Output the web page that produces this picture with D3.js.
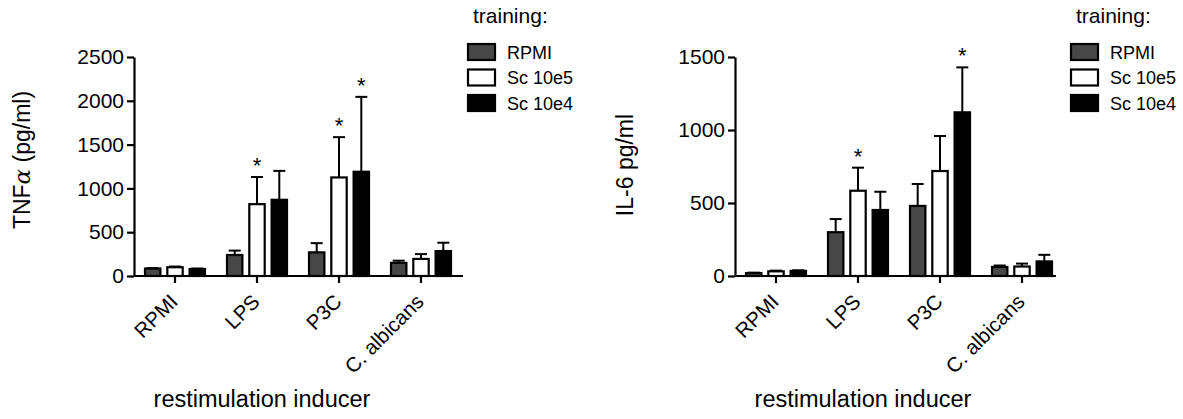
<!DOCTYPE html>
<html>
<head>
<meta charset="utf-8">
<script src="https://cdn.jsdelivr.net/npm/d3@7"></script>
<style>
  body { margin: 0; background: #fff; }
  svg { display: block; font-family: "Liberation Sans", Arial, sans-serif; }
</style>
</head>
<body>
<svg id="chart" width="1183" height="419"></svg>
<script>
const categories = ['RPMI', 'LPS', 'P3C', 'C. albicans'];
const series = ['RPMI', 'Sc 10e5', 'Sc 10e4'];
const seriesFill = ['#474747', '#ffffff', '#000000'];

// TNFa, mean per category for each training group, and the SEM (upper bar)
const tnfRpmi = [85, 240, 270, 150];
const tnfRpmiErr = [5, 50, 105, 25];
const tnfSc5 = [100, 820, 1125, 195];
const tnfSc5Err = [8, 310, 460, 55];
const tnfSc4 = [80, 870, 1190, 285];
const tnfSc4Err = [5, 330, 855, 95];
const tnfTicks = [0, 500, 1000, 1500, 2000, 2500];
const tnfStars = [['LPS', 'Sc 10e5'], ['P3C', 'Sc 10e5'], ['P3C', 'Sc 10e4']];

// IL-6
const il6Rpmi = [20, 300, 480, 62];
const il6RpmiErr = [3, 90, 150, 10];
const il6Sc5 = [32, 584, 719, 65];
const il6Sc5Err = [5, 158, 240, 20];
const il6Sc4 = [35, 452, 1121, 100];
const il6Sc4Err = [4, 125, 308, 45];
const il6Ticks = [0, 500, 1000, 1500];
const il6Stars = [['LPS', 'Sc 10e5'], ['P3C', 'Sc 10e4']];

const svg = d3.select('#chart');

function rows(means, errs) {
  const out = [];
  categories.forEach((c, i) => {
    series.forEach((s, j) => {
      out.push({ cat: c, ser: s, si: j, mean: means[j][i], err: errs[j][i] });
    });
  });
  return out;
}

function drawPanel(opt) {
  const top = 57, bottom = 276;
  const data = rows(opt.means, opt.errs);

  const x = d3.scaleBand()
    .domain(categories)
    .range([opt.left, opt.left + 328]);

  const xs = d3.scaleBand()
    .domain(series)
    .range([0, 62])
    .paddingInner(0.22);

  const y = d3.scaleLinear()
    .domain([0, opt.max])
    .range([bottom, top]);

  const barX = d => x(d.cat) + x.bandwidth() / 2 - 31 + xs(d.ser);

  const g = svg.append('g');

  // error bars first so the bar outline sits on top
  const err = g.selectAll('.err')
    .data(data)
    .enter()
    .append('g')
    .attr('class', 'err')
    .attr('transform', d => `translate(${barX(d) + xs.bandwidth() / 2},0)`);
  err.append('line')
    .attr('y1', d => y(d.mean))
    .attr('y2', d => y(d.mean + d.err))
    .attr('stroke', '#000')
    .attr('stroke-width', 2);
  err.append('line')
    .attr('x1', -6).attr('x2', 6)
    .attr('y1', d => y(d.mean + d.err))
    .attr('y2', d => y(d.mean + d.err))
    .attr('stroke', '#000')
    .attr('stroke-width', 2);

  g.selectAll('.bar')
    .data(data)
    .enter()
    .append('rect')
    .attr('class', 'bar')
    .attr('x', d => barX(d) + 1)
    .attr('y', d => y(d.mean))
    .attr('width', xs.bandwidth() - 2)
    .attr('height', d => bottom - y(d.mean))
    .attr('fill', d => seriesFill[d.si])
    .attr('stroke', '#000')
    .attr('stroke-width', 2.2);

  // significance marks
  g.selectAll('.star')
    .data(data.filter(d => opt.stars.some(s => s[0] === d.cat && s[1] === d.ser)))
    .enter()
    .append('text')
    .attr('class', 'star')
    .attr('x', d => barX(d) + xs.bandwidth() / 2)
    .attr('y', d => y(d.mean + d.err) - 4)
    .attr('text-anchor', 'middle')
    .style('font-size', '22px')
    .text('*');

  const yAxis = g.append('g')
    .attr('transform', `translate(${opt.left},0)`)
    .call(d3.axisLeft(y).tickValues(opt.ticks).tickFormat(d3.format('d'))
      .tickSize(7).tickSizeOuter(0).tickPadding(3));

  const xAxis = g.append('g')
    .attr('transform', `translate(0,${bottom})`)
    .call(d3.axisBottom(x).tickSize(7).tickSizeOuter(0));
  // the baseline stops a little after the last group
  xAxis.select('.domain').attr('d', `M${opt.left},0H${opt.axisEnd}`);

  [yAxis, xAxis].forEach(a => {
    a.selectAll('path, line').attr('stroke', '#000').attr('stroke-width', 2.2);
  });
  yAxis.selectAll('text').style('font-size', '21px').attr('fill', '#000');
  xAxis.selectAll('text')
    .style('font-size', '20.5px')
    .style('text-anchor', 'end')
    .attr('fill', '#000')
    .attr('x', 0).attr('y', 0).attr('dy', null)
    .attr('transform', 'translate(4,27) rotate(-45)');

  g.append('text')
    .attr('transform', `translate(${opt.titleX},${opt.titleY}) rotate(-90)`)
    .attr('text-anchor', 'middle')
    .style('font-size', '23px')
    .html(opt.title);

  g.append('text')
    .attr('x', opt.left + 128)
    .attr('y', 407)
    .attr('text-anchor', 'middle')
    .style('font-size', '23.5px')
    .text('restimulation inducer');

  // legend
  const lg = g.append('g').attr('transform', `translate(${opt.legendX},0)`);
  lg.append('text')
    .attr('x', 6).attr('y', 23)
    .style('font-size', '21px')
    .text('training:');
  const item = lg.selectAll('.item')
    .data(series)
    .enter()
    .append('g')
    .attr('class', 'item')
    .attr('transform', (d, i) => `translate(0,${43 + i * 25.5})`);
  item.append('rect')
    .attr('x', 1).attr('y', 1)
    .attr('width', 27).attr('height', 16)
    .attr('fill', (d, i) => seriesFill[i])
    .attr('stroke', '#000')
    .attr('stroke-width', 2.2);
  item.append('text')
    .attr('x', 40).attr('y', 15.5)
    .style('font-size', '18px')
    .text(d => d);
}

drawPanel({
  left: 134, max: 2500, ticks: tnfTicks,
  means: [tnfRpmi, tnfSc5, tnfSc4],
  errs: [tnfRpmiErr, tnfSc5Err, tnfSc4Err],
  stars: tnfStars,
  title: 'TNF<tspan font-family="DejaVu Serif" font-style="italic">α</tspan> (pg/ml)',
  titleX: 30, titleY: 160,
  legendX: 467, axisEnd: 463
});

drawPanel({
  left: 735, max: 1500, ticks: il6Ticks,
  means: [il6Rpmi, il6Sc5, il6Sc4],
  errs: [il6RpmiErr, il6Sc5Err, il6Sc4Err],
  stars: il6Stars,
  title: 'IL-6 pg/ml',
  titleX: 633, titleY: 165,
  legendX: 1070, axisEnd: 1056
});
</script>
</body>
</html>
